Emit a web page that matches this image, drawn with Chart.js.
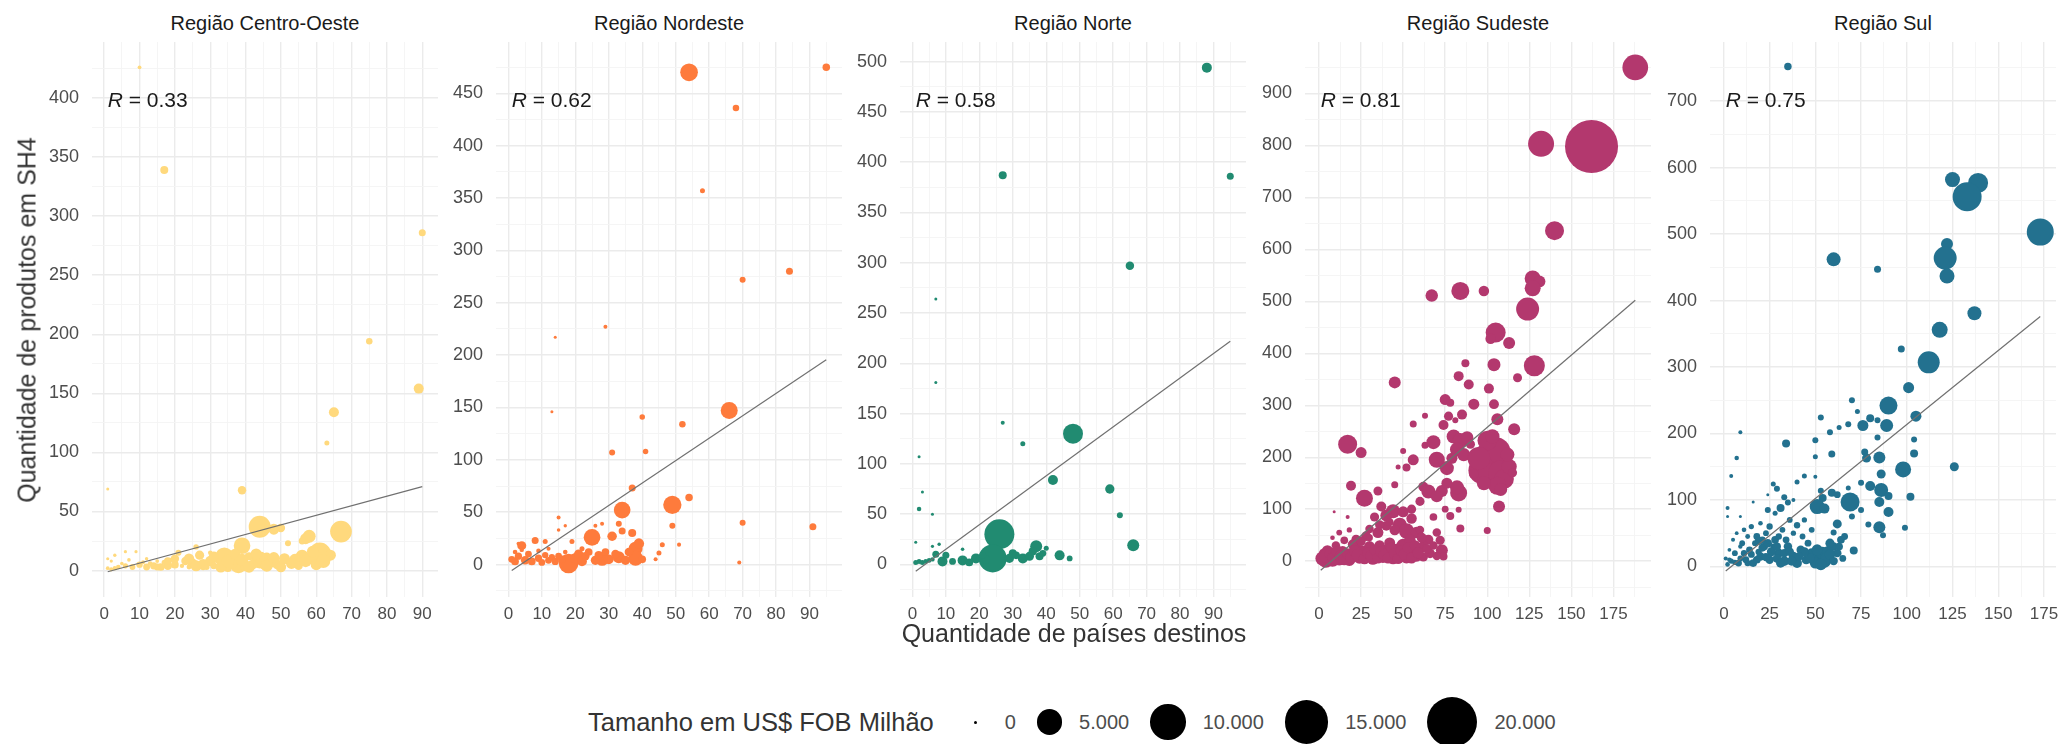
<!DOCTYPE html>
<html><head><meta charset="utf-8">
<script src="https://cdn.jsdelivr.net/npm/chart.js@4.4.1/dist/chart.umd.min.js"></script>
<style>
html,body{margin:0;padding:0;background:#fff;}
#root{position:relative;width:2063px;height:744px;overflow:hidden;font-family:"Liberation Sans",Arial,sans-serif;background:#fff;}
.panel{position:absolute;}
.strip{position:absolute;text-align:center;font-size:20px;color:#1a1a1a;white-space:nowrap;line-height:20px;}
#ytitle{position:absolute;left:27px;top:320px;transform:translate(-50%,-50%) rotate(-90deg);font-size:25px;color:#333;white-space:nowrap;}
#xtitle{position:absolute;left:1074px;top:633px;transform:translate(-50%,-50%);font-size:25px;color:#333;white-space:nowrap;}
#legend{position:absolute;left:588px;top:692px;height:60px;display:flex;align-items:center;white-space:nowrap;}
#legend .lt{font-size:25.5px;color:#333;margin-right:30px;}
#legend .key{display:flex;align-items:center;justify-content:center;}
#legend .dot{background:#000;border-radius:50%;}
#legend .lab{font-size:20px;color:#4d4d4d;margin-left:17px;margin-right:21px;}
</style></head>
<body><div id="root"></div>
<script>
// ---------- data ----------
const regioes = ['Região Centro-Oeste','Região Nordeste','Região Norte','Região Sudeste','Região Sul'];
const cores = ['#FFD97D','#FE7B3C','#218B71','#B3386E','#23718F'];
const rValores = ['0.33','0.62','0.58','0.81','0.75'];
const xTicks = [
  [0,10,20,30,40,50,60,70,80,90],
  [0,10,20,30,40,50,60,70,80,90],
  [0,10,20,30,40,50,60,70,80,90],
  [0,25,50,75,100,125,150,175],
  [0,25,50,75,100,125,150,175]
];
const yTicks = [
  [0,50,100,150,200,250,300,350,400],
  [0,50,100,150,200,250,300,350,400,450],
  [0,50,100,150,200,250,300,350,400,450,500],
  [0,100,200,300,400,500,600,700,800,900],
  [0,100,200,300,400,500,600,700]
];
const xLimites = [[-3.45,94.45],[-3.7,99.7],[-3.7,99.7],[-8.35,197.35],[-7.6,181.6]];
const yLimites = [[-22.4,447.4],[-31,499],[-32.4,519.5],[-69,999],[-46,789]];
const tendenciaX = [[1,90],[1,95],[1,95],[1,188],[1,173]];
const tendenciaY = [[-1,71],[-5.7,195.6],[-6.7,222],[-17.6,502],[-7,376]];
const legendaValores = [0,5000,10000,15000,20000];
const legendaRotulos = ['0','5.000','10.000','15.000','20.000'];

// [países destinos, produtos SH4, US$ FOB milhão]
const pontosCentroOeste = [
 [10,426,40],[17,339,440],[90,286,320],[75,194,266],[89,154,728],[65,134,728],[63,108,128],[1,69,0],[39,68,500],
 [44,37,3800],[67,33,3700],[58,29,1280],[57,27,900],[48,35,900],[50,36,500],[39,21,2160],[61,14,4100],[34,12,2500],
 [38,5,2240],[44,9,2240],[52,23,216],[56,12,1300],[54,9,1100],[53,6,900],[58,10,1000],[47,7,800],[49,5,700],
 [36,6,1000],[40,4,900],[41,12,500],[30,8,800],[28,5,900],[25,6,700],[27,13,600],[23,8,500],[21,15,216],[26,20,160],
 [30,15,90],[20,5,400],[18,4,500],[16,3,400],[14,4,350],[12,3,300],[10,5,250],[8,3,200],[6,4,150],[4,3,100],[3,2,80],
 [2,1,60],[1,2,40],[5,6,30],[3,13,20],[6,16,10],[9,16,10],[12,10,20],[15,8,40],[19,9,60],[22,4,80],[24,3,120],
 [31,4,300],[33,5,500],[35,2,400],[38,10,600],[45,4,300],[46,12,400],[2,8,10],[1,10,5],[7,9,30],[11,7,60],[13,6,100],
 [17,7,150],[29,3,200],[32,9,250],[42,5,700],[45,11,500],[56,25,300],[60,12,800],[64,13,900],[59,16,1000],[55,4,500],
 [24,10,800],[26,4,900],[31,12,700],[33,3,900],[35,8,1200],[37,14,800],[39,9,1100],[41,3,1000],[43,14,900],[46,4,1100],
 [48,11,900],[50,3,800],[51,10,900],[57,8,1100],[60,5,900],[62,8,1500],[20,10,500],[18,8,400],[15,3,300]
];
const pontosNordeste = [
 [54,470,2430],[95,475,378],[68,436,266],[58,357,128],[84,280,320],[70,272,216],[29,227,56],[14,217,0],[13,146,0],
 [66,147,2240],[40,141,170],[52,134,266],[31,107,216],[41,108,170],[37,73,320],[54,64,378],[49,57,2600],[34,52,2160],
 [70,40,216],[91,36,320],[49,37,216],[33,39,216],[15,45,56],[17,37,20],[15,33,30],[37,30,440],[34,32,320],[31,27,650],
 [25,26,2160],[38,15,1500],[38,6,1728],[33,7,1080],[28,5,1280],[18,1,3000],[8,23,320],[4,18,576],[11,22,128],
 [46,19,128],[45,11,128],[44,5,60],[51,19,60],[69,2,60],[19,22,128],[22,15,128],[28,39,56],[26,37,56],
 [1,5,300],[2,3,400],[3,8,350],[5,4,500],[6,10,300],[7,3,400],[9,6,350],[10,2,300],[11,9,250],[12,4,300],[13,7,250],
 [14,3,350],[15,8,300],[16,5,400],[20,6,800],[21,10,600],[22,3,700],[23,8,500],[24,12,400],[26,4,600],[27,9,500],
 [29,12,400],[30,5,700],[32,10,500],[35,4,600],[36,12,500],[39,20,800],[40,5,400],[2,12,100],[4,14,80],[9,13,100],
 [12,15,60],[17,12,100],[3,20,40]
];
const pontosNorte = [
 [88,494,728],[95,386,320],[27,387,440],[65,297,500],[7,264,0],[7,181,0],[27,141,56],[33,120,128],[48,130,3128],
 [42,84,728],[59,75,620],[62,49,216],[66,19,1080],[2,107,0],[3,72,0],[2,55,90],[6,50,0],[1,22,0],[6,18,10],[8,20,20],
 [15,15,30],[26,30,7128],[24,6,6200],[37,18,1080],[44,9,728],[38,8,440],[33,6,728],[35,8,576],[40,16,128],[30,11,440],
 [19,6,728],[15,4,728],[9,3,728],[7,10,320],[10,9,320],[1,2,128],[2,3,128],[3,2,128],[4,3,100],[5,4,100],[6,5,80],
 [22,5,440],[29,6,600],[31,9,400],[36,13,500],[12,3,300],[17,2,400],[21,9,300],[39,11,300],[47,6,200]
];
const pontosSudeste = [
 [188,950,5210],[162,798,22400],[132,803,5336],[140,636,2816],[67,511,1178],[84,520,2520],[98,520,810],[127,544,1976],
 [131,538,1080],[127,525,1976],[124,485,4160],[105,440,3128],[102,428,800],[113,420,1080],[128,376,3456],[104,378,1280],
 [87,381,440],[45,344,1080],[83,356,728],[89,340,728],[101,332,728],[118,353,576],[92,302,900],[75,311,900],[78,305,440],
 [104,302,700],[63,280,216],[56,264,320],[74,262,728],[77,279,600],[85,282,728],[81,271,216],[106,273,1080],[116,254,1080],
 [80,240,1500],[84,232,1800],[88,238,1200],[82,215,1500],[86,205,1300],[79,198,900],[90,225,600],
 [102,190,12700],[105,210,7000],[97,175,6000],[108,170,5000],[100,232,3000],[110,158,3000],[95,198,4000],[106,145,2500],
 [113,182,1800],[103,240,1600],[112,205,1500],[98,150,1500],[92,168,700],[115,170,600],
 [107,105,1080],[108,138,1280],[100,59,320],[84,63,440],[83,99,216],[78,87,440],[83,131,2240],[82,142,1500],[73,135,1080],
 [76,150,900],[17,225,2816],[25,209,900],[19,145,728],[27,121,2240],[35,135,576],[45,147,320],[56,195,900],[52,180,440],
 [47,181,128],[50,212,216],[63,223,320],[68,229,1500],[70,195,2000],[76,179,1500],[62,143,728],[65,134,1500],[70,125,1080],
 [60,115,600],[37,105,728],[44,96,1500],[40,88,1080],[9,95,0],[17,85,60],[33,85,600],[30,62,500],[55,82,800],[55,100,600],
 [50,95,900],[48,70,1500],[52,58,1800],[58,55,1000],[45,60,800],[40,68,700],[35,55,900],[28,48,700],[22,42,600],
 [73,21,1080],[74,9,440],[65,41,728],[62,30,600],[60,60,500],[68,85,400],[75,100,300],
 [2,5,1500],[4,2,1800],[6,8,1500],[8,3,1600],[10,12,1200],[12,5,1500],[14,18,1000],[5,20,900],[3,15,800],[16,8,1300],
 [18,3,1200],[20,14,1100],[22,25,900],[24,6,1000],[26,18,1200],[28,9,1100],[30,28,900],[32,4,1000],[34,15,1300],
 [36,30,800],[38,8,1100],[40,20,1200],[42,35,900],[44,5,1000],[46,22,1100],[48,12,1200],[50,30,1400],[52,8,1300],
 [54,40,1000],[56,18,1200],[58,10,1000],[60,25,900],[62,8,600],[66,15,700],[70,10,500],[10,30,500],[15,40,400],
 [20,32,700],[25,38,600],[12,55,200],[18,60,150],[8,45,100],[30,45,300],[36,70,600],[42,75,400],
 [4,10,1400],[7,14,1200],[9,6,1300],[11,18,1100],[13,9,1200],[15,3,1000],[17,14,900],[19,7,1000],[21,20,900],[23,12,1100],
 [27,5,1000],[29,16,900],[31,10,1100],[33,22,800],[35,6,900],[37,18,1000],[39,12,1100],[41,6,900],[43,26,800],[45,14,1000],
 [47,5,900],[49,20,1000],[51,14,1100],[53,26,900],[55,6,900],[57,30,800],[59,16,900],[61,45,700],[64,24,600],[68,30,500],
 [72,40,600],[70,55,500]
];
const pontosSul = [
 [35,752,378],[125,582,1728],[139,577,3128],[133,556,6650],[173,503,5760],[60,462,1500],[84,447,320],[122,485,1080],
 [121,464,4160],[122,437,1728],[137,381,1500],[118,356,1976],[97,327,320],[112,307,3800],[101,269,900],[90,242,2520],
 [105,226,900],[89,212,1280],[76,212,900],[80,223,440],[84,220,216],[70,250,216],[73,233,128],[68,214,216],[63,209,128],
 [53,224,216],[58,202,216],[50,190,216],[34,185,440],[9,202,56],[7,163,90],[4,136,56],[84,194,216],[104,191,216],
 [104,170,440],[126,150,576],[98,146,1976],[85,164,1080],[77,172,320],[78,163,576],[59,169,320],[50,165,128],[86,139,576],
 [80,121,728],[86,115,1500],[90,106,440],[85,97,728],[102,105,440],[69,97,2816],[75,126,216],[68,118,128],[90,82,728],
 [75,85,216],[70,75,216],[85,59,1080],[87,47,216],[99,58,216],[79,63,216],[59,111,440],[62,108,300],[53,114,216],
 [54,103,440],[51,90,1728],[55,87,728],[62,64,576],[60,51,216],[71,24,440],[29,117,216],[27,124,128],[40,127,128],
 [44,136,128],[50,135,56],[33,104,216],[35,96,216],[38,100,56],[24,108,0],[16,97,0],[31,88,440],[24,85,216],[28,80,128],
 [2,88,56],[2,75,0],[9,75,0],
 [52,15,1500],[55,8,1300],[57,22,1000],[50,5,900],[48,20,700],[60,30,500],[45,10,600],[42,25,500],[40,5,700],[38,15,600],
 [35,30,500],[33,8,700],[30,20,600],[28,40,400],[25,10,500],[22,30,400],[20,15,500],[18,45,300],[16,5,400],[14,25,300],
 [12,10,300],[10,35,200],[8,5,300],[6,20,200],[4,8,150],[2,3,100],[1,12,60],[3,25,40],[5,40,60],[7,50,40],[9,30,80],
 [11,55,100],[13,45,120],[15,60,150],[17,35,200],[19,22,250],[21,40,300],[23,50,200],[25,60,250],[27,30,200],[30,45,250],
 [32,55,200],[34,40,300],[36,70,200],[38,50,150],[40,62,250],[43,45,200],[46,35,300],[48,55,200],[64,40,400],[66,45,300],
 [62,20,500],[58,35,600],[44,70,150],[20,65,100],
 [54,20,1200],[56,12,1100],[51,25,900],[53,3,1000],[58,18,800],[47,12,700],[44,22,600],[41,15,500],[37,8,600],[33,20,500],
 [29,12,500],[26,22,600],[23,14,500],[21,28,400],[18,10,400],[15,18,300],[13,5,250],[11,20,250],[9,12,200],[6,6,150],
 [3,10,100],[24,35,500],[19,38,400],[29,30,450],[36,22,500],[31,5,600],[63,30,400],[60,8,500],[65,12,300]
];
const pontos = [pontosCentroOeste,pontosNordeste,pontosNorte,pontosSudeste,pontosSul];

// ---------- layout ----------
const FONT = '"Liberation Sans", Arial, sans-serif';
const plotLeft = [92,496,900,1305,1710];
const plotW = 346, plotTop = 42, plotH = 555;
const YW = 60, XH = 34, PADR = 7;

function raio(v){ return Math.sqrt(9 + 0.125*v)/2; }

function ticksComMenores(majors, lim){
  const step = majors[1]-majors[0];
  const all = [];
  const first = majors[0]-step/2;
  if (first >= lim[0]) all.push(first);
  majors.forEach(m => { all.push(m); const h = m+step/2; if (h <= lim[1]) all.push(h); });
  return all.filter(v => v >= lim[0] && v <= lim[1]).map(v => ({value:v}));
}

const rPlugin = {
  id:'rLabel',
  afterDatasetsDraw(chart, args, opts){
    const {ctx, chartArea, scales} = chart;
    const x = scales.x.getPixelForValue(opts.xPos);
    const y = chartArea.top + 59;
    ctx.save();
    ctx.fillStyle = '#1a1a1a'; ctx.textBaseline = 'middle'; ctx.textAlign = 'left';
    ctx.font = 'italic 21px ' + FONT;
    ctx.fillText('R', x, y);
    const w = ctx.measureText('R').width;
    ctx.font = '21px ' + FONT;
    ctx.fillText(' = ' + opts.text, x + w, y);
    ctx.restore();
  }
};

const root = document.getElementById('root');
regioes.forEach((nome, i) => {
  const strip = document.createElement('div');
  strip.className = 'strip';
  strip.style.left = plotLeft[i] + 'px'; strip.style.width = plotW + 'px'; strip.style.top = '13px';
  strip.textContent = nome;
  root.appendChild(strip);

  const box = document.createElement('div');
  box.className = 'panel';
  box.style.left = (plotLeft[i]-YW) + 'px';
  box.style.top = plotTop + 'px';
  box.style.width = (YW + plotW + PADR) + 'px';
  box.style.height = (plotH + XH) + 'px';
  const cv = document.createElement('canvas');
  box.appendChild(cv);
  root.appendChild(box);

  const xm = xTicks[i], ym = yTicks[i];
  const dados = pontos[i].map(p => ({x:p[0], y:p[1], v:p[2]}));
  new Chart(cv, {
    type:'scatter',
    data:{datasets:[
      {type:'line', data:[{x:tendenciaX[i][0],y:tendenciaY[i][0]},{x:tendenciaX[i][1],y:tendenciaY[i][1]}],
       borderColor:'#707070', borderWidth:1.2, pointRadius:0, fill:false, tension:0},
      {data:dados, backgroundColor:cores[i], borderWidth:0,
       pointRadius: c => raio(c.raw ? c.raw.v : 0), pointHoverRadius: c => raio(c.raw ? c.raw.v : 0)}
    ]},
    plugins:[rPlugin],
    options:{
      responsive:true, maintainAspectRatio:false, animation:false,
      layout:{autoPadding:false, padding:{left:0,top:0,bottom:0,right:PADR}},
      events:[],
      plugins:{legend:{display:false}, tooltip:{enabled:false}, rLabel:{xPos:tendenciaX[i][0], text:rValores[i]}},
      scales:{
        x:{type:'linear', min:xLimites[i][0], max:xLimites[i][1],
          afterBuildTicks: s => { s.ticks = ticksComMenores(xm, xLimites[i]); },
          afterFit: s => { s.height = XH; s.paddingLeft = 0; s.paddingRight = 0; },
          grid:{drawTicks:false, color: c => (c.tick && xm.includes(c.tick.value)) ? '#EBEBEB' : '#F4F4F4',
                lineWidth: c => (c.tick && xm.includes(c.tick.value)) ? 1.4 : 0.9},
          border:{display:false},
          ticks:{autoSkip:false, maxRotation:0, padding:7, color:'#4D4D4D', font:{family:FONT, size:17},
                 callback: v => xm.includes(v) ? String(v) : ''}},
        y:{type:'linear', min:yLimites[i][0], max:yLimites[i][1],
          afterBuildTicks: s => { s.ticks = ticksComMenores(ym, yLimites[i]); },
          afterFit: s => { s.width = YW; s.paddingTop = 0; s.paddingBottom = 0; },
          grid:{drawTicks:false, color: c => (c.tick && ym.includes(c.tick.value)) ? '#EBEBEB' : '#F4F4F4',
                lineWidth: c => (c.tick && ym.includes(c.tick.value)) ? 1.4 : 0.9},
          border:{display:false},
          ticks:{autoSkip:false, padding:13, color:'#4D4D4D', font:{family:FONT, size:18},
                 callback: v => ym.includes(v) ? String(v) : ''}}
      }
    }
  });
});

// axis titles
const yt = document.createElement('div'); yt.id = 'ytitle'; yt.textContent = 'Quantidade de produtos em SH4'; root.appendChild(yt);
const xt = document.createElement('div'); xt.id = 'xtitle'; xt.textContent = 'Quantidade de países destinos'; root.appendChild(xt);

// size legend
const lg = document.createElement('div'); lg.id = 'legend';
const lt = document.createElement('span'); lt.className = 'lt'; lt.textContent = 'Tamanho em US$ FOB Milhão'; lg.appendChild(lt);
legendaValores.forEach((v, k) => {
  const d = 2*raio(v);
  const key = document.createElement('span'); key.className = 'key';
  key.style.width = Math.max(24, d) + 'px'; key.style.height = Math.max(24, d) + 'px';
  const dot = document.createElement('span'); dot.className = 'dot';
  dot.style.width = d + 'px'; dot.style.height = d + 'px';
  key.appendChild(dot); lg.appendChild(key);
  const lab = document.createElement('span'); lab.className = 'lab'; lab.textContent = legendaRotulos[k];
  lg.appendChild(lab);
});
root.appendChild(lg);
</script>
</body></html>
